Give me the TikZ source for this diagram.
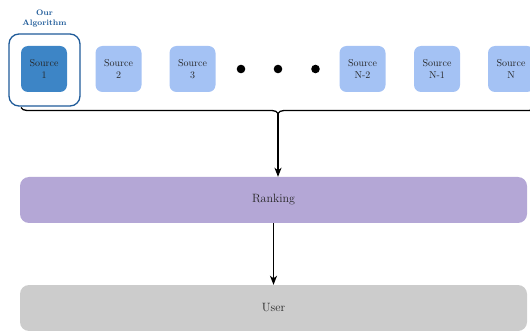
\documentclass[tikz,border=0pt]{standalone}
\usepackage{tikz}
\usepackage{amsmath}
\usetikzlibrary{arrows.meta,decorations.pathreplacing}

\definecolor{srcdark}{HTML}{3D85C6}
\definecolor{srclight}{HTML}{A4C2F4}
\definecolor{algoblue}{HTML}{1F5B99}
\definecolor{rankpurple}{HTML}{B4A7D6}
\definecolor{usergray}{HTML}{CCCCCC}

\tikzset{
    source/.style={fill=srclight, rounded corners=7pt, minimum size=46pt, inner sep=0pt,
        align=center, font=\fontsize{10}{12}\selectfont, text=black!85},
    stage/.style={rounded corners=9pt, minimum width=507pt, minimum height=46pt, inner sep=0pt,
        font=\fontsize{12}{14}\selectfont, text=black!85},
    flow/.style={line width=1.3pt, -{Stealth[length=9pt, width=7pt, inset=2.5pt]}}
}

\begin{document}
\begin{tikzpicture}[x=1pt,y=-1pt]
                \useasboundingbox (0,0) rectangle (530,331);
                \node[source, fill=srcdark] (src1) at (44,69) {Source\\1};
                \node[source] (src2) at (118.5,69) {Source\\2};
                \node[source] (src3) at (192.5,69) {Source\\3};
                \node[source] (srcN2) at (362.5,69) {Source\\N-2};
                \node[source] (srcN1) at (437,69) {Source\\N-1};
                \node[source] (srcN) at (511,69) {Source\\N};
                \fill (241,69) circle (4.3pt);
                \fill (278,69) circle (4.3pt);
                \fill (315.5,69) circle (4.3pt);
                \node[draw=algoblue, line width=1.3pt, rounded corners=10pt, minimum width=71pt, minimum height=72pt] (frame) at (44.5,70) {};
                \node[above, yshift=2.5pt, text=algoblue, align=center, font=\bfseries\fontsize{8}{10}\selectfont] (algo) at (frame.north) {Our\\Algorithm};
                \draw[line width=1.3pt, decorate, decoration={brace, mirror, amplitude=6pt}] (21,107.5) -- (535,107.5);
                \coordinate (tip) at (278,113.5);
                \node[stage, fill=rankpurple] (ranking) at (273.5,200) {Ranking};
                \node[stage, fill=usergray] (user) at (273.5,308) {User};
                \draw[flow] (tip) -- (tip |- ranking.north);
                \draw[flow] (ranking) -- (user);
            \end{tikzpicture}
\end{document}
